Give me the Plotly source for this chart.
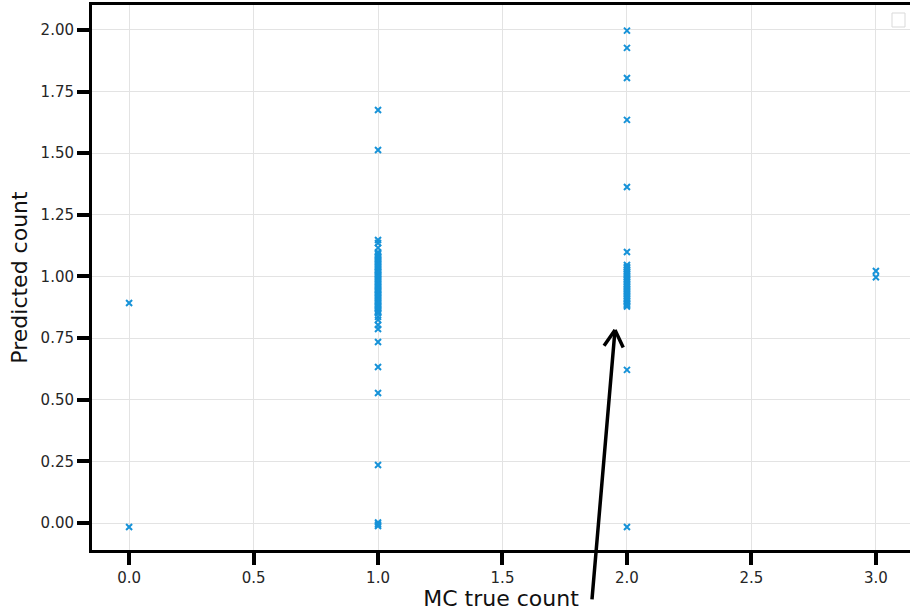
import math
import plotly.graph_objects as go

# MC truth vs predicted count per sample
true_zero = [0, 0]
pred_zero = [0.892, -0.016]

true_one = [1] * 62
pred_one = [
    1.675, 1.513, 1.148, 1.136, 1.116, 1.098, 1.092, 1.085, 1.080, 1.074,
    1.069, 1.063, 1.058, 1.052, 1.047, 1.041, 1.036, 1.030, 1.025, 1.019,
    1.014, 1.008, 1.003, 0.998, 0.992, 0.987, 0.981, 0.976, 0.970, 0.965,
    0.959, 0.954, 0.948, 0.943, 0.937, 0.932, 0.926, 0.921, 0.915, 0.910,
    0.904, 0.899, 0.893, 0.888, 0.882, 0.877, 0.871, 0.866, 0.860, 0.855,
    0.851, 0.836, 0.824, 0.803, 0.787, 0.734, 0.633, 0.527, 0.235, 0.002,
    -0.006, -0.012,
]

true_two = [2] * 34
pred_two = [
    1.997, 1.927, 1.805, 1.635, 1.363, 1.099, 1.047, 1.035, 1.028, 1.020,
    1.012, 1.005, 0.998, 0.991, 0.984, 0.977, 0.970, 0.963, 0.956, 0.949,
    0.942, 0.935, 0.928, 0.921, 0.914, 0.907, 0.900, 0.894, 0.888, 0.883,
    0.878, 0.621, -0.016, 1.040,
]

true_three = [3, 3]
pred_three = [1.022, 0.997]

x_all = true_zero + true_one + true_two + true_three
y_all = pred_zero + pred_one + pred_two + pred_three

x_ticks = [0.0, 0.5, 1.0, 1.5, 2.0, 2.5, 3.0]
x_tick_text = ["0.0", "0.5", "1.0", "1.5", "2.0", "2.5", "3.0"]
y_ticks = [0.0, 0.25, 0.5, 0.75, 1.0, 1.25, 1.5, 1.75, 2.0]
y_tick_text = ["0.00", "0.25", "0.50", "0.75", "1.00", "1.25", "1.50", "1.75", "2.00"]

MARK = "#1692d8"
INK = "#262626"

W, H = 910, 611
ML, MR, MT, MB = 92, 0, 5, 61
X_RANGE = [-0.149, 3.137]
Y_RANGE = [-0.1095, 2.101]

fig = go.Figure()
fig.add_trace(go.Scatter(
    x=x_all, y=y_all, mode="markers",
    marker=dict(symbol="x-thin", size=6, color=MARK,
                line=dict(color=MARK, width=2)),
    showlegend=False,
))

axis_common = dict(
    showgrid=True, gridcolor="#e3e3e3", gridwidth=1,
    zeroline=False, showline=True, linecolor="black", linewidth=3,
    ticks="outside", ticklen=12, tickwidth=3.5, tickcolor="black",
    tickfont=dict(family="DejaVu Sans", size=15, color=INK),
)

fig.update_xaxes(
    range=X_RANGE, tickvals=x_ticks, ticktext=x_tick_text,
    mirror=True,
    title=dict(text="MC true count", standoff=4,
               font=dict(family="DejaVu Sans", size=22, color="#111111")),
    **axis_common,
)
fig.update_yaxes(
    range=Y_RANGE, tickvals=y_ticks, ticktext=y_tick_text,
    title=dict(text="Predicted count", standoff=7,
               font=dict(family="DejaVu Sans", size=22, color="#111111")),
    **axis_common,
)

# arrow pointing at the class-2 cluster: shaft plus an open "->" head
tip = (1.952, 0.783)
tail = (1.859, -0.316)
fig.add_annotation(
    x=tip[0], y=tip[1], ax=tail[0], ay=tail[1],
    xref="x", yref="y", axref="x", ayref="y",
    text="", showarrow=True, arrowhead=0,
    arrowwidth=3.5, arrowcolor="black", standoff=0, startstandoff=0,
)
px_x = (W - ML - MR) / (X_RANGE[1] - X_RANGE[0])
px_y = (H - MT - MB) / (Y_RANGE[1] - Y_RANGE[0])
back_dx = (tail[0] - tip[0]) * px_x
back_dy = -(tail[1] - tip[1]) * px_y
back_ang = math.atan2(back_dy, back_dx)
head_len, head_spread = 21, math.radians(30)
for sign in (-1, 1):
    a = back_ang + sign * head_spread
    fig.add_annotation(
        x=tip[0], y=tip[1], xref="x", yref="y",
        ax=head_len * math.cos(a), ay=head_len * math.sin(a),
        text="", showarrow=True, arrowhead=0,
        arrowwidth=3.5, arrowcolor="black", standoff=0, startstandoff=0,
    )

# empty legend frame in the upper-right corner
fig.add_shape(
    type="rect", xref="paper", yref="paper",
    x0=(892 - ML) / (W - ML - MR), x1=(905 - ML) / (W - ML - MR),
    y0=1 - (27 - MT) / (H - MT - MB), y1=1 - (13 - MT) / (H - MT - MB),
    line=dict(color="#d9d9d9", width=1), fillcolor="white",
)

fig.update_layout(
    width=W, height=H,
    margin=dict(l=ML, r=MR, t=MT, b=MB),
    paper_bgcolor="white", plot_bgcolor="white",
    font=dict(family="DejaVu Sans"),
)

fig.write_html("out.html")
